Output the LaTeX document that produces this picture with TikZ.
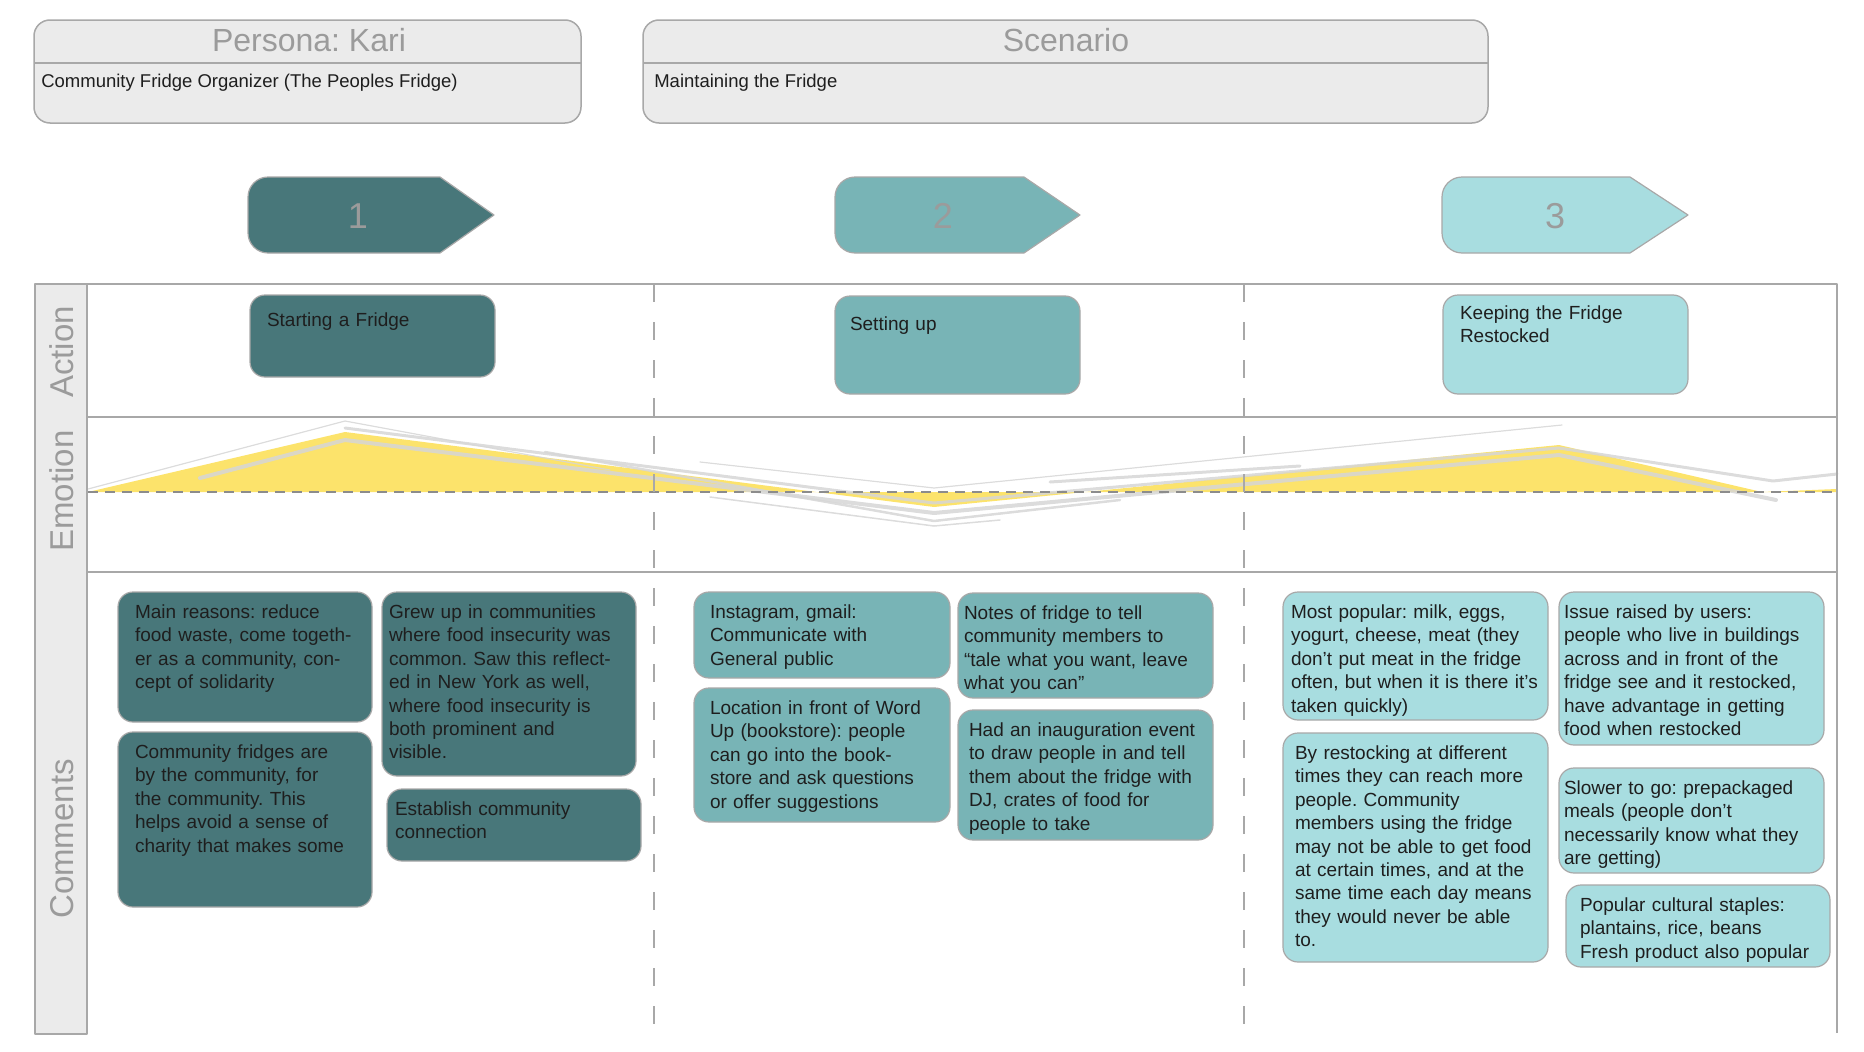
\documentclass[tikz,border=0pt]{standalone}
\usepackage{fontspec}
\setmainfont{Liberation Sans}
\usetikzlibrary{positioning}
\frenchspacing

\definecolor{tealdark}{HTML}{48777A}
\definecolor{tealmid}{HTML}{78B4B6}
\definecolor{teallight}{HTML}{A8DDE0}
\definecolor{panelgray}{HTML}{EBEBEB}
\definecolor{linegray}{HTML}{A8A8A8}
\definecolor{labelgray}{HTML}{9B9B9B}
\definecolor{moodyellow}{HTML}{FCE36B}
\definecolor{scribblegray}{HTML}{D6D6D6}
\definecolor{ink}{HTML}{1E1E1E}

\begin{document}
\begin{tikzpicture}[
            x = 1pt, y = -1pt, % one unit per pixel, y runs down
            line join = round,
            semithick % line style
        ]

        \tikzstyle{header}=[
            draw = linegray,
            line width = 1.5pt,
            fill = panelgray,
            rounded corners = 16pt,
            anchor = north west,
            inner sep = 0pt,
            outer sep = 0pt
        ]
        \tikzstyle{note}=[
            draw = linegray,
            line width = 1.2pt,
            rounded corners = 15pt,
            anchor = north west,
            outer sep = 0pt,
            inner ysep = 12.5pt,
            text height = 14pt,
            align = left,
            text = ink,
            font = \fontsize{19}{23.4}\selectfont
        ]
        \tikzstyle{phase1}=[note, fill = tealdark]
        \tikzstyle{phase2}=[note, fill = tealmid]
        \tikzstyle{phase3}=[note, fill = teallight]
        \tikzstyle{chevron}=[draw = linegray, line width = 1.2pt]
        \tikzstyle{stepnum}=[text = labelgray, anchor = base, font = \fontsize{36}{40}\selectfont]
        \tikzstyle{headtitle}=[text = labelgray, anchor = base, font = \fontsize{32}{36}\selectfont]
        \tikzstyle{headtext}=[text = ink, anchor = base west, inner sep = 0pt, font = \fontsize{18.5}{22}\selectfont]
        \tikzstyle{rowlabel}=[text = labelgray, rotate = 90, font = \fontsize{33}{36}\selectfont]
        \tikzstyle{frameline}=[draw = linegray, line width = 2pt]
        \tikzstyle{phaseline}=[draw = linegray, line width = 1.5pt, dash pattern = on 18pt off 20pt]
        \tikzstyle{zeroline}=[draw = black!45, line width = 1.6pt, dash pattern = on 10pt off 7pt]
        \tikzstyle{scribble}=[draw = scribblegray, opacity = 0.85, line cap = round]

        \useasboundingbox (0,0) rectangle (1864,1052);

        % persona and scenario
        \node[header, minimum width = 547pt, minimum height = 103pt] (persona) at (34,20) {};
        \node[header, minimum width = 845pt, minimum height = 103pt] (scenario) at (643,20) {};
        \draw[line width = 1.5pt, draw = linegray] (persona.west |- 0,63) -- (persona.east |- 0,63);
        \draw[line width = 1.5pt, draw = linegray] (scenario.west |- 0,63) -- (scenario.east |- 0,63);
        \node[headtitle] (personaname) at (309,51) {Persona: Kari};
        \node[headtitle] (scenarioname) at (1066,51) {Scenario};
        \node[headtext] (personarole) at (41,87) {Community Fridge Organizer (The Peoples Fridge)};
        \node[headtext] (scenariotext) at (654,87) {Maintaining the Fridge};

        % phase arrows
        \draw[chevron, fill = tealdark] (440,177) -- (494,215) -- (440,253) -- (268,253) .. controls (257,253) and (248,244) .. (248,233) -- (248,197) .. controls (248,186) and (257,177) .. (268,177) -- cycle;
        \draw[chevron, fill = tealmid] (1024,177) -- (1080,215) -- (1024,253) -- (855,253) .. controls (844,253) and (835,244) .. (835,233) -- (835,197) .. controls (835,186) and (844,177) .. (855,177) -- cycle;
        \draw[chevron, fill = teallight] (1630,177) -- (1688,215) -- (1630,253) -- (1462,253) .. controls (1451,253) and (1442,244) .. (1442,233) -- (1442,197) .. controls (1442,186) and (1451,177) .. (1462,177) -- cycle;
        \node[stepnum] (step1) at (358,228) {1};
        \node[stepnum] (step2) at (943,228) {2};
        \node[stepnum] (step3) at (1555,228) {3};

        % emotion curve
        \fill[moodyellow] (88,492) -- (345,432) -- (934,507) -- (1559,445) -- (1762,492) -- (1837,489) -- (1837,492) -- cycle;
        \draw[scribble, line width = 1.2pt] (88,489) -- (345,421) -- (610,470);
        \draw[scribble, line width = 4pt] (200,478) -- (345,440) -- (934,513) -- (1559,455) -- (1776,500);
        \draw[scribble, line width = 3pt] (345,428) -- (934,503) -- (1559,448) -- (1773,481) -- (1837,474);
        \draw[scribble, line width = 2.5pt] (545,452) -- (934,521) -- (1120,500);
        \draw[scribble, line width = 1.5pt] (710,497) -- (934,526) -- (1000,520);
        \draw[scribble, line width = 1.2pt] (700,462) -- (934,488) -- (1562,425);
        \draw[scribble, line width = 3pt] (1050,482) -- (1300,466);
        \draw[zeroline] (88,492) -- (1837,492);

        % lanes
        \draw[frameline] (87,284) -- (1837,284) -- (1837,1033);
        \draw[frameline] (87,417) -- (1837,417);
        \draw[frameline] (87,572) -- (1837,572);
        \draw[frameline, fill = panelgray] (35,284) rectangle (87,1034);
        \draw[phaseline] (654,284) -- (654,1033);
        \draw[phaseline] (1244,284) -- (1244,1033);
        \node[rowlabel] (lblaction) at (62,352) {Action};
        \node[rowlabel] (lblemotion) at (62,491) {Emotion};
        \node[rowlabel] (lblcomments) at (62,839) {Comments};

        % actions
        \node[phase1, text width = 211pt, inner xsep = 17pt, inner ysep = 17.5pt, text depth = 33pt] (act1) at (250,295) {Starting a Fridge};
        \node[phase2, text width = 215pt, inner xsep = 15pt, inner ysep = 20.5pt, text depth = 43pt] (act2) at (835,296) {Setting up};
        \node[phase3, text width = 211pt, inner xsep = 17pt, inner ysep = 10.5pt, text depth = 64pt] (act3) at (1443,295) {Keeping the Fridge\\Restocked};

        % comments, phase 1
        \node[phase1, text width = 220pt, inner xsep = 17pt, text depth = 91pt] (reasons) at (118,592) {Main reasons: reduce\\food waste, come togeth-\\er as a community, con-\\cept of solidarity};
        \node[phase1, below = 10pt of reasons.south west, anchor = north west, text width = 220pt, inner xsep = 17pt, text depth = 136pt] (forcommunity) {Community fridges are\\by the community, for\\the community. This\\helps avoid a sense of\\charity that makes some};
        \node[phase1, text width = 240pt, inner xsep = 7pt, text depth = 145pt] (grewup) at (382,592) {Grew up in communities\\where food insecurity was\\common. Saw this reflect-\\ed in New York as well,\\where food insecurity is\\both prominent and\\visible.};
        \node[phase1, below = 13pt of grewup.south west, anchor = north west, xshift = 5pt, text width = 238pt, inner xsep = 8pt, text depth = 33pt] (connection) {Establish community\\connection};

        % comments, phase 2
        \node[phase2, text width = 224pt, inner xsep = 16pt, text depth = 47pt] (channels) at (694,592) {Instagram, gmail:\\Communicate with\\General public};
        \node[phase2, below = 10pt of channels.south west, anchor = north west, text width = 224pt, inner xsep = 16pt, text depth = 95pt] (location) {Location in front of Word\\Up (bookstore): people\\can go into the book-\\store and ask questions\\or offer suggestions};
        \node[phase2, text width = 243pt, inner xsep = 6pt, text depth = 66pt] (notes) at (958,593) {Notes of fridge to tell\\community members to\\“tale what you want, leave\\what you can”};
        \node[phase2, below = 12pt of notes.south west, anchor = north west, text width = 233pt, inner xsep = 11pt, text depth = 91pt] (inauguration) {Had an inauguration event\\to draw people in and tell\\them about the fridge with\\DJ, crates of food for\\people to take};

        % comments, phase 3
        \node[phase3, text width = 249pt, inner xsep = 8pt, text depth = 89pt] (popular) at (1283,592) {Most popular: milk, eggs,\\yogurt, cheese, meat (they\\don’t put meat in the fridge\\often, but when it is there it’s\\taken quickly)};
        \node[phase3, below = 13pt of popular.south west, anchor = north west, text width = 241pt, inner xsep = 12pt, text depth = 190pt] (restocking) {By restocking at different\\times they can reach more\\people. Community\\members using the fridge\\may not be able to get food\\at certain times, and at the\\same time each day means\\they would never be able\\to.};
        \node[phase3, text width = 255pt, inner xsep = 5pt, text depth = 114pt] (issue) at (1559,592) {Issue raised by users:\\people who live in buildings\\across and in front of the\\fridge see and it restocked,\\have advantage in getting\\food when restocked};
        \node[phase3, below = 23pt of issue.south west, anchor = north west, text width = 255pt, inner xsep = 5pt, text depth = 66pt] (slower) {Slower to go: prepackaged\\meals (people don’t\\necessarily know what they\\are getting)};
        \node[phase3, below = 12pt of slower.south west, anchor = north west, xshift = 7pt, text width = 236pt, inner xsep = 14pt, text depth = 43pt] (staples) {Popular cultural staples:\\plantains, rice, beans\\Fresh product also popular};
    \end{tikzpicture}
\end{document}
